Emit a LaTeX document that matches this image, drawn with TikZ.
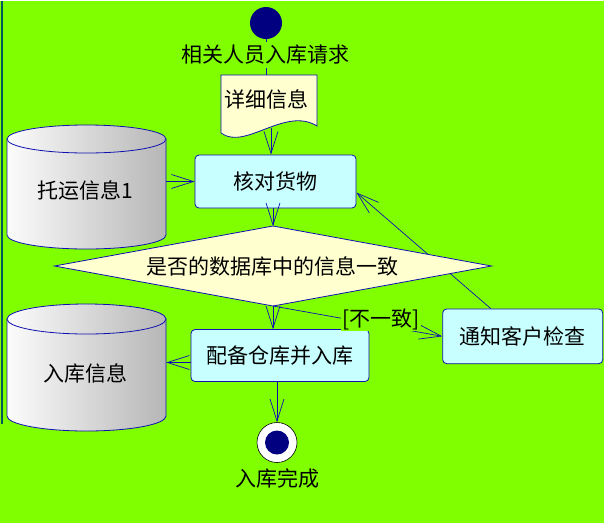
\documentclass[tikz,border=0pt]{standalone}
\usepackage{fontspec}
\newfontfamily\cjk{Noto Sans CJK SC}
\usetikzlibrary{arrows.meta,shapes.geometric}
\definecolor{bgc}{RGB}{128,255,0}
\definecolor{navy}{RGB}{0,0,128}
\definecolor{linecol}{RGB}{16,16,176}
\definecolor{boxfill}{RGB}{200,255,255}
\definecolor{yel}{RGB}{255,255,208}
\definecolor{cylL}{RGB}{252,252,252}
\definecolor{cylR}{RGB}{182,182,182}
\definecolor{edgec}{RGB}{0,90,90}
\pgfdeclarelayer{back}
\pgfdeclarelayer{canvas}
\pgfsetlayers{canvas,back,main}
\begin{document}
\begin{tikzpicture}[x=1pt,y=-1pt,
  txt/.style={font=\cjk\fontsize{21}{25}\selectfont, inner sep=0pt},
  act/.style={txt, draw=linecol, fill=boxfill, rounded corners=4pt, line width=0.8pt},
  arr/.style={draw=linecol, line width=0.7pt, -{Straight Barb[length=22pt,width=14pt]}},
  conn/.style={draw=linecol, line width=0.7pt},
  cyl/.style={draw=linecol, line width=0.8pt, left color=cylL, right color=cylR}
]
\begin{pgfonlayer}{canvas}
\fill[bgc] (0,0) rectangle (604,522);
\draw[edgec, line width=2pt] (1.5,0) -- (1.5,423);
\end{pgfonlayer}

% start
\node[circle, fill=navy, minimum size=32pt, inner sep=0pt] (start) at (266,22) {};

% document
\node[minimum width=96pt, minimum height=58pt, inner sep=0pt] (doc) at (269,103) {};
\path[draw=linecol, fill=yel, line width=0.8pt] (221,74) -- (317,74) -- (317,125)
  .. controls (285,105) and (245,150) .. (221,132) -- cycle;
\node[txt] at (266,98) {详细信息};
\coordinate (docbot) at (271,127);

% start line and its label
\draw[conn] (start.south) -- (start.south |- doc.north);
\node[txt, fill=bgc, inner sep=3pt] at (265,54) {相关人员入库请求};

% cylinder 1
\path[cyl] (7,138) -- (7,234) arc[start angle=180, end angle=360, x radius=79.5pt, y radius=14pt] -- (166,138) -- cycle;
\path[cyl] (86.5,138) ellipse [x radius=79.5pt, y radius=14pt];
\node[txt, minimum width=162pt] (cyl1) at (85,189) {托运信息1};

% cylinder 2
\path[cyl] (7,318) -- (7,415) arc[start angle=180, end angle=360, x radius=79.5pt, y radius=15pt] -- (166,318) -- cycle;
\path[cyl] (86.5,318) ellipse [x radius=79.5pt, y radius=15pt];
\node[txt, minimum width=162pt] (cyl2) at (85,372) {入库信息};

% activities
\node[act, minimum width=161pt, minimum height=53pt] (check) at (275.5,180.5) {核对货物};
\node[diamond, draw=linecol, fill=yel, line width=0.8pt, inner sep=0pt, outer sep=0pt,
      aspect=5.46, minimum width=437pt, minimum height=80pt] (dec) at (273,265) {};
\node[txt] at (272,265) {是否的数据库中的信息一致};
\node[act, minimum width=160pt, minimum height=54.7pt] (notify) at (522.7,335.3) {通知客户检查};
\node[act, minimum width=178pt, minimum height=52pt] (store) at (280,354.5) {配备仓库并入库};

% end
\node[circle, draw=black, fill=white, minimum size=40pt, inner sep=0pt, line width=0.6pt] (end) at (277,441.5) {};
\node[circle, fill=navy, minimum size=24pt, inner sep=0pt] at (end) {};
\node[txt] at (277,477) {入库完成};

% connectors
\draw[arr] (docbot) -- (docbot |- check.north);
\draw[arr] (check.west -| cyl1.east) -- (check.west);
\draw[arr] (check.south -| dec.north) -- (dec.north);
\draw[arr] (dec.south) -- (dec.south |- store.north);
\draw[arr] (dec.south) -- (notify.west);
\node[txt, fill=bgc, inner sep=1pt] at (381,318) {[不一致]};
\begin{pgfonlayer}{back}
\draw[arr] ([xshift=-32pt]notify.north) -- ([yshift=-11pt]check.east);
\end{pgfonlayer}
\coordinate (sw) at ([yshift=-7pt]store.west);
\draw[arr] (sw) -- (sw -| cyl2.east);
\draw[arr] (store.south -| end.north) -- (end.north);
\end{tikzpicture}
\end{document}
